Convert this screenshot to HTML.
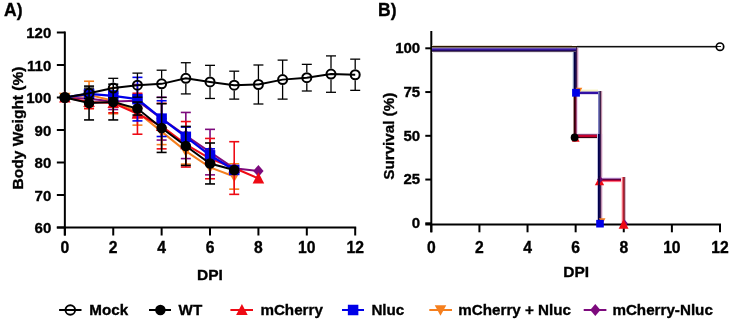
<!DOCTYPE html>
<html><head><meta charset="utf-8"><style>
html,body{margin:0;padding:0;background:#fff;width:733px;height:323px;overflow:hidden}
svg{display:block;will-change:transform}
text{font-family:"Liberation Sans",sans-serif;font-weight:bold;stroke:#000;stroke-width:0.35px}
</style></head><body>
<svg width="733" height="323" viewBox="0 0 733 323">
<rect width="733" height="323" fill="#fff"/>
<g stroke="#000" stroke-width="2" fill="none" stroke-linecap="butt">
<line x1="64.85" y1="31.5" x2="64.85" y2="235.5"/>
<line x1="56.849999999999994" y1="227.5" x2="356.2" y2="227.5"/>
<line x1="56.849999999999994" y1="227.5" x2="64.85" y2="227.5"/>
<line x1="56.849999999999994" y1="195.0" x2="64.85" y2="195.0"/>
<line x1="56.849999999999994" y1="162.5" x2="64.85" y2="162.5"/>
<line x1="56.849999999999994" y1="130.0" x2="64.85" y2="130.0"/>
<line x1="56.849999999999994" y1="97.5" x2="64.85" y2="97.5"/>
<line x1="56.849999999999994" y1="65.0" x2="64.85" y2="65.0"/>
<line x1="56.849999999999994" y1="32.5" x2="64.85" y2="32.5"/>
<line x1="64.85" y1="227.5" x2="64.85" y2="235.5"/>
<line x1="113.24166666666667" y1="227.5" x2="113.24166666666667" y2="235.5"/>
<line x1="161.63333333333333" y1="227.5" x2="161.63333333333333" y2="235.5"/>
<line x1="210.025" y1="227.5" x2="210.025" y2="235.5"/>
<line x1="258.4166666666667" y1="227.5" x2="258.4166666666667" y2="235.5"/>
<line x1="306.80833333333334" y1="227.5" x2="306.80833333333334" y2="235.5"/>
<line x1="355.20000000000005" y1="227.5" x2="355.20000000000005" y2="235.5"/>
</g>
<text x="51.3" y="233.30" text-anchor="end" font-size="15" font-family="Liberation Sans, sans-serif" font-weight="bold">60</text>
<text x="51.3" y="200.80" text-anchor="end" font-size="15" font-family="Liberation Sans, sans-serif" font-weight="bold">70</text>
<text x="51.3" y="168.30" text-anchor="end" font-size="15" font-family="Liberation Sans, sans-serif" font-weight="bold">80</text>
<text x="51.3" y="135.80" text-anchor="end" font-size="15" font-family="Liberation Sans, sans-serif" font-weight="bold">90</text>
<text x="51.3" y="103.30" text-anchor="end" font-size="15" font-family="Liberation Sans, sans-serif" font-weight="bold">100</text>
<text x="51.3" y="70.80" text-anchor="end" font-size="15" font-family="Liberation Sans, sans-serif" font-weight="bold">110</text>
<text x="51.3" y="38.30" text-anchor="end" font-size="15" font-family="Liberation Sans, sans-serif" font-weight="bold">120</text>
<text x="64.85" y="252.8" text-anchor="middle" font-size="15.7" font-family="Liberation Sans, sans-serif" font-weight="bold">0</text>
<text x="113.24" y="252.8" text-anchor="middle" font-size="15.7" font-family="Liberation Sans, sans-serif" font-weight="bold">2</text>
<text x="161.63" y="252.8" text-anchor="middle" font-size="15.7" font-family="Liberation Sans, sans-serif" font-weight="bold">4</text>
<text x="210.03" y="252.8" text-anchor="middle" font-size="15.7" font-family="Liberation Sans, sans-serif" font-weight="bold">6</text>
<text x="258.42" y="252.8" text-anchor="middle" font-size="15.7" font-family="Liberation Sans, sans-serif" font-weight="bold">8</text>
<text x="306.81" y="252.8" text-anchor="middle" font-size="15.7" font-family="Liberation Sans, sans-serif" font-weight="bold">10</text>
<text x="355.20" y="252.8" text-anchor="middle" font-size="15.7" font-family="Liberation Sans, sans-serif" font-weight="bold">12</text>
<text x="210" y="280.3" text-anchor="middle" font-size="15.5" font-family="Liberation Sans, sans-serif" font-weight="bold">DPI</text>
<text transform="translate(22.8,128) rotate(-90)" text-anchor="middle" font-size="15.5" font-family="Liberation Sans, sans-serif" font-weight="bold">Body Weight (%)</text>
<text x="4" y="15.8" font-size="17.5" font-family="Liberation Sans, sans-serif" font-weight="bold">A)</text>
<g stroke="#7d0a7d" stroke-width="1.6" fill="none"><line x1="89.05" y1="93.93" x2="89.05" y2="103.68"/><line x1="84.05" y1="93.93" x2="94.05" y2="93.93"/><line x1="84.05" y1="103.68" x2="94.05" y2="103.68"/><line x1="113.24" y1="93.28" x2="113.24" y2="109.53"/><line x1="108.24" y1="93.28" x2="118.24" y2="93.28"/><line x1="108.24" y1="109.53" x2="118.24" y2="109.53"/><line x1="137.44" y1="84.50" x2="137.44" y2="117.00"/><line x1="132.44" y1="84.50" x2="142.44" y2="84.50"/><line x1="132.44" y1="117.00" x2="142.44" y2="117.00"/><line x1="161.63" y1="97.18" x2="161.63" y2="140.07"/><line x1="156.63" y1="97.18" x2="166.63" y2="97.18"/><line x1="156.63" y1="140.07" x2="166.63" y2="140.07"/><line x1="185.83" y1="112.45" x2="185.83" y2="158.60"/><line x1="180.83" y1="112.45" x2="190.83" y2="112.45"/><line x1="180.83" y1="158.60" x2="190.83" y2="158.60"/><line x1="210.03" y1="129.35" x2="210.03" y2="174.85"/><line x1="205.03" y1="129.35" x2="215.03" y2="129.35"/><line x1="205.03" y1="174.85" x2="215.03" y2="174.85"/></g>
<polyline points="64.85,97.50 89.05,98.80 113.24,101.40 137.44,100.75 161.63,118.62 185.83,135.53 210.03,152.10 234.22,168.35 258.42,170.95" fill="none" stroke="#7d0a7d" stroke-width="2"/>
<polygon points="64.85,91.46 69.98,97.50 64.85,103.54 59.72,97.50" fill="#7d0a7d"/>
<polygon points="89.05,92.76 94.18,98.80 89.05,104.84 83.91,98.80" fill="#7d0a7d"/>
<polygon points="113.24,95.36 118.37,101.40 113.24,107.44 108.11,101.40" fill="#7d0a7d"/>
<polygon points="137.44,94.71 142.57,100.75 137.44,106.79 132.31,100.75" fill="#7d0a7d"/>
<polygon points="161.63,112.59 166.77,118.62 161.63,124.66 156.50,118.62" fill="#7d0a7d"/>
<polygon points="185.83,129.49 190.96,135.53 185.83,141.56 180.70,135.53" fill="#7d0a7d"/>
<polygon points="210.03,146.06 215.16,152.10 210.03,158.14 204.89,152.10" fill="#7d0a7d"/>
<polygon points="234.22,162.31 239.35,168.35 234.22,174.39 229.09,168.35" fill="#7d0a7d"/>
<polygon points="258.42,164.91 263.55,170.95 258.42,176.99 253.28,170.95" fill="#7d0a7d"/>
<g stroke="#f57f1e" stroke-width="1.6" fill="none"><line x1="89.05" y1="81.25" x2="89.05" y2="108.55"/><line x1="84.05" y1="81.25" x2="94.05" y2="81.25"/><line x1="84.05" y1="108.55" x2="94.05" y2="108.55"/><line x1="113.24" y1="87.75" x2="113.24" y2="113.75"/><line x1="108.24" y1="87.75" x2="118.24" y2="87.75"/><line x1="108.24" y1="113.75" x2="118.24" y2="113.75"/><line x1="137.44" y1="99.12" x2="137.44" y2="125.12"/><line x1="132.44" y1="99.12" x2="142.44" y2="99.12"/><line x1="132.44" y1="125.12" x2="142.44" y2="125.12"/><line x1="161.63" y1="118.62" x2="161.63" y2="144.62"/><line x1="156.63" y1="118.62" x2="166.63" y2="118.62"/><line x1="156.63" y1="144.62" x2="166.63" y2="144.62"/><line x1="185.83" y1="138.12" x2="185.83" y2="164.12"/><line x1="180.83" y1="138.12" x2="190.83" y2="138.12"/><line x1="180.83" y1="164.12" x2="190.83" y2="164.12"/><line x1="234.22" y1="163.80" x2="234.22" y2="189.15"/><line x1="229.22" y1="163.80" x2="239.22" y2="163.80"/><line x1="229.22" y1="189.15" x2="239.22" y2="189.15"/></g>
<polyline points="64.85,97.50 89.05,94.90 113.24,100.75 137.44,112.12 161.63,131.62 185.83,151.12 210.03,167.38 234.22,176.47" fill="none" stroke="#f57f1e" stroke-width="2"/>
<polygon points="64.85,103.28 70.62,92.78 59.07,92.78" fill="#f57f1e"/>
<polygon points="89.05,100.68 94.82,90.18 83.27,90.18" fill="#f57f1e"/>
<polygon points="113.24,106.53 119.02,96.03 107.47,96.03" fill="#f57f1e"/>
<polygon points="137.44,117.90 143.21,107.40 131.66,107.40" fill="#f57f1e"/>
<polygon points="161.63,137.40 167.41,126.90 155.86,126.90" fill="#f57f1e"/>
<polygon points="185.83,156.90 191.60,146.40 180.05,146.40" fill="#f57f1e"/>
<polygon points="210.03,173.15 215.80,162.65 204.25,162.65" fill="#f57f1e"/>
<polygon points="234.22,182.25 240.00,171.75 228.45,171.75" fill="#f57f1e"/>
<g stroke="#ee0a14" stroke-width="1.6" fill="none"><line x1="89.05" y1="95.55" x2="89.05" y2="108.55"/><line x1="84.05" y1="95.55" x2="94.05" y2="95.55"/><line x1="84.05" y1="108.55" x2="94.05" y2="108.55"/><line x1="113.24" y1="93.28" x2="113.24" y2="112.78"/><line x1="108.24" y1="93.28" x2="118.24" y2="93.28"/><line x1="108.24" y1="112.78" x2="118.24" y2="112.78"/><line x1="137.44" y1="93.28" x2="137.44" y2="134.22"/><line x1="132.44" y1="93.28" x2="142.44" y2="93.28"/><line x1="132.44" y1="134.22" x2="142.44" y2="134.22"/><line x1="161.63" y1="103.35" x2="161.63" y2="148.85"/><line x1="156.63" y1="103.35" x2="166.63" y2="103.35"/><line x1="156.63" y1="148.85" x2="166.63" y2="148.85"/><line x1="185.83" y1="121.55" x2="185.83" y2="167.05"/><line x1="180.83" y1="121.55" x2="190.83" y2="121.55"/><line x1="180.83" y1="167.05" x2="190.83" y2="167.05"/><line x1="210.03" y1="138.45" x2="210.03" y2="178.75"/><line x1="205.03" y1="138.45" x2="215.03" y2="138.45"/><line x1="205.03" y1="178.75" x2="215.03" y2="178.75"/><line x1="234.22" y1="141.70" x2="234.22" y2="194.35"/><line x1="229.22" y1="141.70" x2="239.22" y2="141.70"/><line x1="229.22" y1="194.35" x2="239.22" y2="194.35"/></g>
<polyline points="64.85,97.50 89.05,102.05 113.24,103.03 137.44,113.75 161.63,126.10 185.83,144.30 210.03,158.60 234.22,168.03 258.42,178.43" fill="none" stroke="#ee0a14" stroke-width="2"/>
<polygon points="64.85,91.44 70.62,102.46 59.07,102.46" fill="#ee0a14"/>
<polygon points="89.05,95.99 94.82,107.01 83.27,107.01" fill="#ee0a14"/>
<polygon points="113.24,96.96 119.02,107.99 107.47,107.99" fill="#ee0a14"/>
<polygon points="137.44,107.69 143.21,118.71 131.66,118.71" fill="#ee0a14"/>
<polygon points="161.63,120.04 167.41,131.06 155.86,131.06" fill="#ee0a14"/>
<polygon points="185.83,138.24 191.60,149.26 180.05,149.26" fill="#ee0a14"/>
<polygon points="210.03,152.54 215.80,163.56 204.25,163.56" fill="#ee0a14"/>
<polygon points="234.22,161.96 240.00,172.99 228.45,172.99" fill="#ee0a14"/>
<polygon points="258.42,172.36 264.19,183.39 252.64,183.39" fill="#ee0a14"/>
<g stroke="#0000e8" stroke-width="1.6" fill="none"><line x1="89.05" y1="90.68" x2="89.05" y2="97.18"/><line x1="84.05" y1="90.68" x2="94.05" y2="90.68"/><line x1="84.05" y1="97.18" x2="94.05" y2="97.18"/><line x1="113.24" y1="91.00" x2="113.24" y2="100.75"/><line x1="108.24" y1="91.00" x2="118.24" y2="91.00"/><line x1="108.24" y1="100.75" x2="118.24" y2="100.75"/><line x1="137.44" y1="77.35" x2="137.44" y2="120.90"/><line x1="132.44" y1="77.35" x2="142.44" y2="77.35"/><line x1="132.44" y1="120.90" x2="142.44" y2="120.90"/><line x1="161.63" y1="100.75" x2="161.63" y2="136.50"/><line x1="156.63" y1="100.75" x2="166.63" y2="100.75"/><line x1="156.63" y1="136.50" x2="166.63" y2="136.50"/><line x1="185.83" y1="127.07" x2="185.83" y2="146.57"/><line x1="180.83" y1="127.07" x2="190.83" y2="127.07"/><line x1="180.83" y1="146.57" x2="190.83" y2="146.57"/><line x1="210.03" y1="148.85" x2="210.03" y2="161.85"/><line x1="205.03" y1="148.85" x2="215.03" y2="148.85"/><line x1="205.03" y1="161.85" x2="215.03" y2="161.85"/></g>
<polyline points="64.85,97.50 89.05,93.93 113.24,95.88 137.44,99.12 161.63,118.62 185.83,136.82 210.03,155.35 234.22,169.97" fill="none" stroke="#0000e8" stroke-width="2.3"/>
<rect x="83.80" y="88.68" width="10.50" height="10.50" fill="#0000e8"/>
<rect x="107.99" y="90.62" width="10.50" height="10.50" fill="#0000e8"/>
<rect x="132.19" y="93.88" width="10.50" height="10.50" fill="#0000e8"/>
<rect x="156.38" y="113.38" width="10.50" height="10.50" fill="#0000e8"/>
<rect x="180.58" y="131.57" width="10.50" height="10.50" fill="#0000e8"/>
<rect x="204.78" y="150.10" width="10.50" height="10.50" fill="#0000e8"/>
<rect x="228.97" y="164.72" width="10.50" height="10.50" fill="#0000e8"/>
<g stroke="#000000" stroke-width="1.6" fill="none"><line x1="89.05" y1="86.12" x2="89.05" y2="119.93"/><line x1="84.05" y1="86.12" x2="94.05" y2="86.12"/><line x1="84.05" y1="119.93" x2="94.05" y2="119.93"/><line x1="113.24" y1="84.18" x2="113.24" y2="119.93"/><line x1="108.24" y1="84.18" x2="118.24" y2="84.18"/><line x1="108.24" y1="119.93" x2="118.24" y2="119.93"/><line x1="137.44" y1="102.05" x2="137.44" y2="115.05"/><line x1="132.44" y1="102.05" x2="142.44" y2="102.05"/><line x1="132.44" y1="115.05" x2="142.44" y2="115.05"/><line x1="161.63" y1="103.68" x2="161.63" y2="152.43"/><line x1="156.63" y1="103.68" x2="166.63" y2="103.68"/><line x1="156.63" y1="152.43" x2="166.63" y2="152.43"/><line x1="185.83" y1="126.43" x2="185.83" y2="165.43"/><line x1="180.83" y1="126.43" x2="190.83" y2="126.43"/><line x1="180.83" y1="165.43" x2="190.83" y2="165.43"/><line x1="210.03" y1="143.00" x2="210.03" y2="183.95"/><line x1="205.03" y1="143.00" x2="215.03" y2="143.00"/><line x1="205.03" y1="183.95" x2="215.03" y2="183.95"/></g>
<polyline points="64.85,97.50 89.05,103.03 113.24,102.05 137.44,108.55 161.63,128.05 185.83,145.93 210.03,163.47 234.22,169.97" fill="none" stroke="#000000" stroke-width="2"/>
<circle cx="64.85" cy="97.50" r="5.25" fill="#000000"/>
<circle cx="89.05" cy="103.03" r="5.25" fill="#000000"/>
<circle cx="113.24" cy="102.05" r="5.25" fill="#000000"/>
<circle cx="137.44" cy="108.55" r="5.25" fill="#000000"/>
<circle cx="161.63" cy="128.05" r="5.25" fill="#000000"/>
<circle cx="185.83" cy="145.93" r="5.25" fill="#000000"/>
<circle cx="210.03" cy="163.47" r="5.25" fill="#000000"/>
<circle cx="234.22" cy="169.97" r="5.25" fill="#000000"/>
<g stroke="#000000" stroke-width="1.3" fill="none"><line x1="89.05" y1="88.08" x2="89.05" y2="87.78"/><line x1="89.05" y1="98.78" x2="89.05" y2="98.47"/><line x1="84.05" y1="88.08" x2="94.05" y2="88.08"/><line x1="84.05" y1="98.47" x2="94.05" y2="98.47"/><line x1="113.24" y1="78.32" x2="113.24" y2="82.57"/><line x1="113.24" y1="93.57" x2="113.24" y2="97.82"/><line x1="108.24" y1="78.32" x2="118.24" y2="78.32"/><line x1="108.24" y1="97.82" x2="118.24" y2="97.82"/><line x1="137.44" y1="73.12" x2="137.44" y2="79.65"/><line x1="137.44" y1="90.65" x2="137.44" y2="97.18"/><line x1="132.44" y1="73.12" x2="142.44" y2="73.12"/><line x1="132.44" y1="97.18" x2="142.44" y2="97.18"/><line x1="161.63" y1="70.20" x2="161.63" y2="78.35"/><line x1="161.63" y1="89.35" x2="161.63" y2="97.50"/><line x1="156.63" y1="70.20" x2="166.63" y2="70.20"/><line x1="156.63" y1="97.50" x2="166.63" y2="97.50"/><line x1="185.83" y1="62.72" x2="185.83" y2="72.82"/><line x1="185.83" y1="83.82" x2="185.83" y2="93.92"/><line x1="180.83" y1="62.72" x2="190.83" y2="62.72"/><line x1="180.83" y1="93.92" x2="190.83" y2="93.92"/><line x1="210.03" y1="65.33" x2="210.03" y2="76.40"/><line x1="210.03" y1="87.40" x2="210.03" y2="98.47"/><line x1="205.03" y1="65.33" x2="215.03" y2="65.33"/><line x1="205.03" y1="98.47" x2="215.03" y2="98.47"/><line x1="234.22" y1="71.18" x2="234.22" y2="79.65"/><line x1="234.22" y1="90.65" x2="234.22" y2="99.12"/><line x1="229.22" y1="71.18" x2="239.22" y2="71.18"/><line x1="229.22" y1="99.12" x2="239.22" y2="99.12"/><line x1="258.42" y1="65.00" x2="258.42" y2="79.00"/><line x1="258.42" y1="90.00" x2="258.42" y2="104.00"/><line x1="253.42" y1="65.00" x2="263.42" y2="65.00"/><line x1="253.42" y1="104.00" x2="263.42" y2="104.00"/><line x1="282.61" y1="60.12" x2="282.61" y2="74.12"/><line x1="282.61" y1="85.12" x2="282.61" y2="99.12"/><line x1="277.61" y1="60.12" x2="287.61" y2="60.12"/><line x1="277.61" y1="99.12" x2="287.61" y2="99.12"/><line x1="306.81" y1="64.35" x2="306.81" y2="72.18"/><line x1="306.81" y1="83.18" x2="306.81" y2="91.00"/><line x1="301.81" y1="64.35" x2="311.81" y2="64.35"/><line x1="301.81" y1="91.00" x2="311.81" y2="91.00"/><line x1="331.00" y1="55.90" x2="331.00" y2="68.60"/><line x1="331.00" y1="79.60" x2="331.00" y2="92.30"/><line x1="326.00" y1="55.90" x2="336.00" y2="55.90"/><line x1="326.00" y1="92.30" x2="336.00" y2="92.30"/><line x1="355.20" y1="59.15" x2="355.20" y2="69.25"/><line x1="355.20" y1="80.25" x2="355.20" y2="90.35"/><line x1="350.20" y1="59.15" x2="360.20" y2="59.15"/><line x1="350.20" y1="90.35" x2="360.20" y2="90.35"/></g>
<polyline points="64.85,97.50 89.05,93.28 113.24,88.07 137.44,85.15 161.63,83.85 185.83,78.32 210.03,81.90 234.22,85.15 258.42,84.50 282.61,79.62 306.81,77.68 331.00,74.10 355.20,74.75" fill="none" stroke="#000000" stroke-width="2"/>
<circle cx="64.85" cy="97.50" r="4.50" fill="none" stroke="#000000" stroke-width="2"/>
<circle cx="89.05" cy="93.28" r="4.50" fill="none" stroke="#000000" stroke-width="2"/>
<circle cx="113.24" cy="88.07" r="4.50" fill="none" stroke="#000000" stroke-width="2"/>
<circle cx="137.44" cy="85.15" r="4.50" fill="none" stroke="#000000" stroke-width="2"/>
<circle cx="161.63" cy="83.85" r="4.50" fill="none" stroke="#000000" stroke-width="2"/>
<circle cx="185.83" cy="78.32" r="4.50" fill="none" stroke="#000000" stroke-width="2"/>
<circle cx="210.03" cy="81.90" r="4.50" fill="none" stroke="#000000" stroke-width="2"/>
<circle cx="234.22" cy="85.15" r="4.50" fill="none" stroke="#000000" stroke-width="2"/>
<circle cx="258.42" cy="84.50" r="4.50" fill="none" stroke="#000000" stroke-width="2"/>
<circle cx="282.61" cy="79.62" r="4.50" fill="none" stroke="#000000" stroke-width="2"/>
<circle cx="306.81" cy="77.68" r="4.50" fill="none" stroke="#000000" stroke-width="2"/>
<circle cx="331.00" cy="74.10" r="4.50" fill="none" stroke="#000000" stroke-width="2"/>
<circle cx="355.20" cy="74.75" r="4.50" fill="none" stroke="#000000" stroke-width="2"/>
<g stroke="#000" stroke-width="2" fill="none">
<line x1="431.3" y1="31" x2="431.3" y2="232.3"/>
<line x1="425.3" y1="224.60000000000002" x2="721.0" y2="224.60000000000002"/>
<line x1="425.3" y1="223.3" x2="431.3" y2="223.3"/>
<line x1="425.3" y1="179.55" x2="431.3" y2="179.55"/>
<line x1="425.3" y1="135.8" x2="431.3" y2="135.8"/>
<line x1="425.3" y1="92.05000000000001" x2="431.3" y2="92.05000000000001"/>
<line x1="425.3" y1="48.30000000000001" x2="431.3" y2="48.30000000000001"/>
<line x1="431.3" y1="224.60000000000002" x2="431.3" y2="232.3"/>
<line x1="479.4166666666667" y1="224.60000000000002" x2="479.4166666666667" y2="232.3"/>
<line x1="527.5333333333333" y1="224.60000000000002" x2="527.5333333333333" y2="232.3"/>
<line x1="575.65" y1="224.60000000000002" x2="575.65" y2="232.3"/>
<line x1="623.7666666666667" y1="224.60000000000002" x2="623.7666666666667" y2="232.3"/>
<line x1="671.8833333333333" y1="224.60000000000002" x2="671.8833333333333" y2="232.3"/>
<line x1="720.0" y1="224.60000000000002" x2="720.0" y2="232.3"/>
</g>
<text x="420.2" y="228.00" text-anchor="end" font-size="15" font-family="Liberation Sans, sans-serif" font-weight="bold">0</text>
<text x="420.2" y="184.25" text-anchor="end" font-size="15" font-family="Liberation Sans, sans-serif" font-weight="bold">25</text>
<text x="420.2" y="140.50" text-anchor="end" font-size="15" font-family="Liberation Sans, sans-serif" font-weight="bold">50</text>
<text x="420.2" y="96.75" text-anchor="end" font-size="15" font-family="Liberation Sans, sans-serif" font-weight="bold">75</text>
<text x="420.2" y="53.00" text-anchor="end" font-size="15" font-family="Liberation Sans, sans-serif" font-weight="bold">100</text>
<text x="431.30" y="252.8" text-anchor="middle" font-size="15.7" font-family="Liberation Sans, sans-serif" font-weight="bold">0</text>
<text x="479.42" y="252.8" text-anchor="middle" font-size="15.7" font-family="Liberation Sans, sans-serif" font-weight="bold">2</text>
<text x="527.53" y="252.8" text-anchor="middle" font-size="15.7" font-family="Liberation Sans, sans-serif" font-weight="bold">4</text>
<text x="575.65" y="252.8" text-anchor="middle" font-size="15.7" font-family="Liberation Sans, sans-serif" font-weight="bold">6</text>
<text x="623.77" y="252.8" text-anchor="middle" font-size="15.7" font-family="Liberation Sans, sans-serif" font-weight="bold">8</text>
<text x="671.88" y="252.8" text-anchor="middle" font-size="15.7" font-family="Liberation Sans, sans-serif" font-weight="bold">10</text>
<text x="720.00" y="252.8" text-anchor="middle" font-size="15.7" font-family="Liberation Sans, sans-serif" font-weight="bold">12</text>
<text x="576.2" y="277.2" text-anchor="middle" font-size="15.5" font-family="Liberation Sans, sans-serif" font-weight="bold">DPI</text>
<text transform="translate(394.1,136.2) rotate(-90)" text-anchor="middle" font-size="15.2" font-family="Liberation Sans, sans-serif" font-weight="bold">Survival (%)</text>
<text x="378" y="15.8" font-size="17.5" font-family="Liberation Sans, sans-serif" font-weight="bold">B)</text>
<rect x="572" y="52" width="1" height="39" fill="#e0e8f0"/>
<rect x="573" y="52" width="1" height="39" fill="#8088b0"/>
<rect x="574" y="47" width="1" height="44" fill="#000040"/>
<rect x="575" y="47" width="1" height="44" fill="#180850"/>
<rect x="576" y="47" width="1" height="44" fill="#402050"/>
<rect x="577" y="47" width="1" height="44" fill="#c090b0"/>
<rect x="578" y="47" width="1" height="44" fill="#f0d8f0"/>
<rect x="432" y="45" width="140" height="1" fill="#e0d8cc"/>
<rect x="432" y="52" width="140" height="1" fill="#ece6ee"/>
<rect x="432" y="47" width="144" height="1" fill="#807070"/>
<rect x="432" y="48" width="144" height="1" fill="#6850b8"/>
<rect x="432" y="49" width="144" height="1" fill="#3818a0"/>
<rect x="432" y="50" width="144" height="1" fill="#200860"/>
<rect x="432" y="51" width="144" height="1" fill="#5a4a64"/>
<rect x="573" y="91" width="1" height="43" fill="#b09090"/>
<rect x="574" y="91" width="1" height="43" fill="#300008"/>
<rect x="575" y="91" width="1" height="43" fill="#600020"/>
<rect x="576" y="91" width="1" height="43" fill="#a05880"/>
<rect x="577" y="91" width="1" height="43" fill="#f0d8f0"/>
<rect x="579" y="89" width="19" height="1" fill="#fbfae4"/>
<rect x="579" y="90" width="19" height="1" fill="#f4f0c0"/>
<rect x="579" y="91" width="19" height="1" fill="#a898c0"/>
<rect x="579" y="92" width="19" height="1" fill="#3010a8"/>
<rect x="579" y="93" width="19" height="1" fill="#3010a0"/>
<rect x="579" y="94" width="19" height="1" fill="#e0d8f0"/>
<rect x="577" y="133" width="21" height="1" fill="#f0e0f0"/>
<rect x="577" y="134" width="21" height="1" fill="#904878"/>
<rect x="577" y="135" width="21" height="1" fill="#c80030"/>
<rect x="577" y="136" width="21" height="1" fill="#c00028"/>
<rect x="577" y="137" width="21" height="1" fill="#400014"/>
<rect x="577" y="138" width="21" height="1" fill="#e8e0e0"/>
<rect x="598" y="91" width="1" height="43" fill="#8080c0"/>
<rect x="599" y="91" width="1" height="43" fill="#505090"/>
<rect x="600" y="91" width="1" height="43" fill="#402048"/>
<rect x="601" y="91" width="1" height="43" fill="#c090a8"/>
<rect x="602" y="91" width="1" height="43" fill="#f4e8f0"/>
<rect x="597" y="134" width="1" height="88" fill="#c0c0e0"/>
<rect x="598" y="134" width="1" height="88" fill="#000048"/>
<rect x="599" y="134" width="1" height="88" fill="#100858"/>
<rect x="600" y="134" width="1" height="88" fill="#402050"/>
<rect x="601" y="134" width="1" height="88" fill="#c090b0"/>
<rect x="602" y="134" width="1" height="88" fill="#f0dcea"/>
<rect x="602" y="177" width="20" height="1" fill="#f0e0f8"/>
<rect x="602" y="178" width="20" height="1" fill="#a070b0"/>
<rect x="602" y="179" width="20" height="1" fill="#600040"/>
<rect x="602" y="180" width="20" height="1" fill="#c00030"/>
<rect x="602" y="181" width="20" height="1" fill="#ff7080"/>
<rect x="602" y="182" width="20" height="1" fill="#fff0f4"/>
<rect x="621" y="177" width="1" height="45" fill="#ffd8d8"/>
<rect x="622" y="177" width="1" height="45" fill="#f07080"/>
<rect x="623" y="177" width="1" height="45" fill="#b02030"/>
<rect x="624" y="177" width="1" height="45" fill="#903848"/>
<rect x="625" y="177" width="1" height="45" fill="#d8c0d0"/>
<rect x="432" y="46" width="145" height="1" fill="#281800"/>
<rect x="577" y="46" width="139" height="1" fill="#101010"/>
<rect x="577" y="45" width="139" height="1" fill="#e4e4e4"/>
<rect x="577" y="47" width="139" height="1" fill="#909090"/>
<rect x="716" y="46" width="5" height="1" fill="#202020"/>
<circle cx="720.0" cy="46.7" r="3.7" fill="none" stroke="#000" stroke-width="1.7"/>
<polygon points="599.50,176.39 604.17,185.32 594.83,185.32" fill="#ee0a14"/>
<polygon points="600.00,176.05 602.93,179.50 600.00,182.95 597.07,179.50" fill="#6a0a70"/>
<rect x="598" y="176" width="2" height="10" fill="rgba(0,0,60,0.75)"/>
<polygon points="579.00,93.80 582.30,87.80 575.70,87.80" fill="#f57f1e"/>
<rect x="572.10" y="88.85" width="7.80" height="7.80" fill="#0000e8"/>
<polygon points="575.80,134.46 579.65,141.81 571.95,141.81" fill="#ee0a14"/>
<circle cx="574.60" cy="137.50" r="3.90" fill="#000"/>
<polygon points="602.20,224.30 605.50,218.30 598.90,218.30" fill="#f57f1e"/>
<rect x="596.20" y="219.90" width="7.60" height="7.60" fill="#0000e8"/>
<polygon points="624.50,219.47 627.92,223.50 624.50,227.53 621.08,223.50" fill="#7d0a7d"/>
<polygon points="623.60,219.30 628.55,228.75 618.65,228.75" fill="#ee0a14"/>
<line x1="59.1" y1="310" x2="81.5" y2="310" stroke="#000000" stroke-width="2"/>
<circle cx="70.30" cy="310.00" r="4.80" fill="none" stroke="#000000" stroke-width="1.9"/>
<text x="89.30000000000001" y="315.2" font-size="15.2" font-family="Liberation Sans, sans-serif" font-weight="bold">Mock</text>
<line x1="149" y1="310" x2="171" y2="310" stroke="#000000" stroke-width="2"/>
<circle cx="160.40" cy="310.00" r="5.25" fill="#000000"/>
<text x="178.6" y="315.2" font-size="15.2" font-family="Liberation Sans, sans-serif" font-weight="bold">WT</text>
<line x1="230.4" y1="310" x2="253" y2="310" stroke="#ee0a14" stroke-width="2"/>
<polygon points="241.90,303.94 247.68,314.96 236.12,314.96" fill="#ee0a14"/>
<text x="260.4" y="315.2" font-size="15.2" font-family="Liberation Sans, sans-serif" font-weight="bold">mCherry</text>
<line x1="342" y1="310" x2="364" y2="310" stroke="#0000e8" stroke-width="2"/>
<rect x="347.85" y="304.75" width="10.50" height="10.50" fill="#0000e8"/>
<text x="371.4" y="315.2" font-size="15.2" font-family="Liberation Sans, sans-serif" font-weight="bold">Nluc</text>
<line x1="429.3" y1="310" x2="452" y2="310" stroke="#f57f1e" stroke-width="2"/>
<polygon points="440.50,315.77 446.27,305.27 434.73,305.27" fill="#f57f1e"/>
<text x="458.29999999999995" y="315.2" font-size="15.2" font-family="Liberation Sans, sans-serif" font-weight="bold">mCherry + Nluc</text>
<line x1="583.7" y1="310" x2="606.4" y2="310" stroke="#7d0a7d" stroke-width="2"/>
<polygon points="595.30,303.96 600.43,310.00 595.30,316.04 590.17,310.00" fill="#7d0a7d"/>
<text x="612.4" y="315.2" font-size="15.2" font-family="Liberation Sans, sans-serif" font-weight="bold">mCherry-Nluc</text>
</svg></body></html>
